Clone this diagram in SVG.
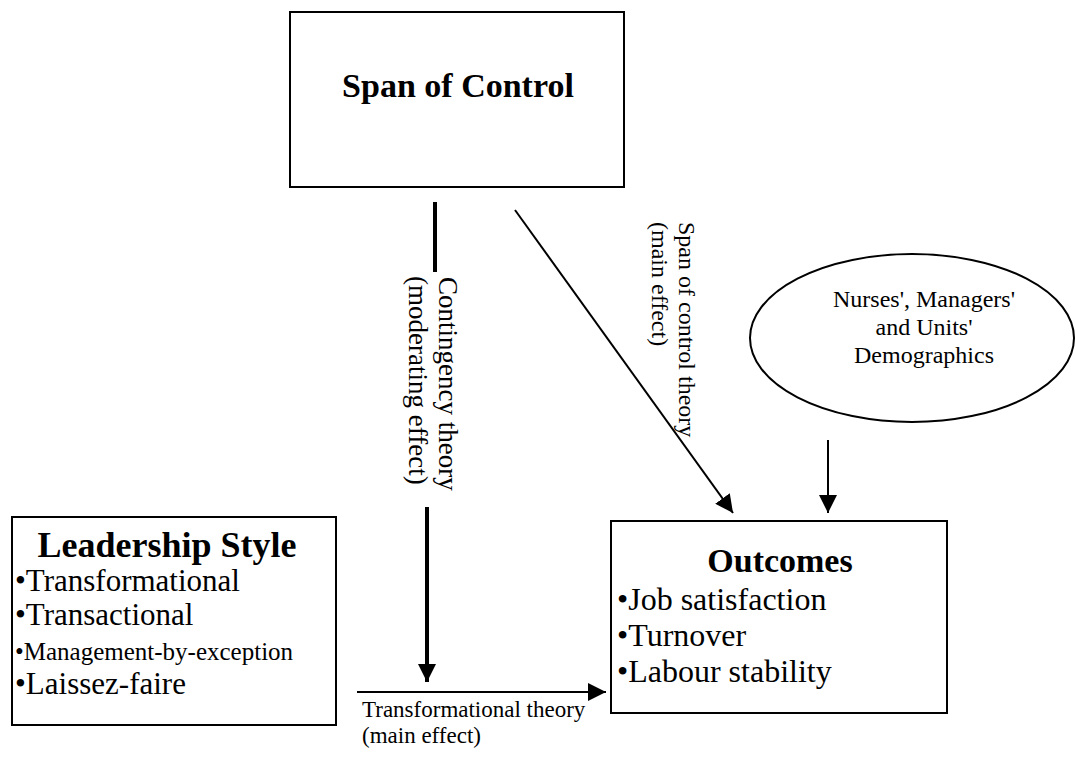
<svg xmlns="http://www.w3.org/2000/svg" width="1075" height="760" viewBox="0 0 1075 760">
<style>
.box{fill:#fff;stroke:#000;stroke-width:2}
.t{font-family:"Liberation Serif","Times New Roman",serif;fill:#000}
.b{font-weight:bold}
.ln{stroke:#000;stroke-width:2;fill:none}
.thick{stroke:#000;stroke-width:4;fill:none}
</style>
<defs>
<marker id="ah" viewBox="0 0 10 10" refX="10" refY="5" markerWidth="9" markerHeight="9" markerUnits="strokeWidth" orient="auto">
<path d="M0,0 L10,5 L0,10 z" fill="#000"/>
</marker>
<marker id="ahT" viewBox="0 0 10 10" refX="10" refY="5" markerWidth="5" markerHeight="4.5" markerUnits="strokeWidth" orient="auto">
<path d="M0,0 L10,5 L0,10 z" fill="#000"/>
</marker>
</defs>
<rect width="1075" height="760" fill="#fff"/>
<g id="span">
<rect class="box" x="290" y="12" width="334" height="175"/>
<text class="t b" x="458" y="97" font-size="34" text-anchor="middle">Span of Control</text>
</g>
<g id="leadership">
<rect class="box" x="12" y="517" width="324" height="208"/>
<text class="t b" x="167" y="557" font-size="36" text-anchor="middle">Leadership Style</text>
<text class="t" x="15" y="591" font-size="31">•Transformational</text>
<text class="t" x="15" y="625" font-size="31">•Transactional</text>
<text class="t" x="15" y="660" font-size="25">•Management-by-exception</text>
<text class="t" x="15" y="694" font-size="31">•Laissez-faire</text>
</g>
<g id="outcomes">
<rect class="box" x="611" y="521" width="336" height="192"/>
<text class="t b" x="780" y="572" font-size="34" text-anchor="middle">Outcomes</text>
<text class="t" x="617" y="610" font-size="32">•Job satisfaction</text>
<text class="t" x="617" y="646" font-size="32">•Turnover</text>
<text class="t" x="617" y="682" font-size="32">•Labour stability</text>
</g>
<g id="demographics">
<ellipse cx="912" cy="338" rx="162" ry="84" fill="#fff" stroke="#000" stroke-width="2"/>
<text class="t" font-size="24" text-anchor="middle"><tspan x="924" y="307">Nurses', Managers'</tspan><tspan x="924" y="335">and Units'</tspan><tspan x="924" y="363">Demographics</tspan></text>
</g>
<g id="connectors">
<line class="thick" x1="435" y1="202" x2="435" y2="272"/>
<line class="thick" x1="427" y1="507" x2="427" y2="682" marker-end="url(#ahT)"/>
<line class="ln" x1="357" y1="692" x2="606" y2="692" marker-end="url(#ah)"/>
<line class="ln" x1="515" y1="210" x2="733" y2="513" marker-end="url(#ah)"/>
<line class="ln" x1="828" y1="440" x2="828" y2="513" marker-end="url(#ah)"/>
</g>
<g id="labels">
<text class="t" font-size="27" transform="translate(439,277) rotate(90)">Contingency theory</text>
<text class="t" font-size="27" transform="translate(409,276) rotate(90)">(moderating effect)</text>
<text class="t" font-size="24" transform="translate(679,222) rotate(90)">Span of control theory</text>
<text class="t" font-size="24" transform="translate(652,222) rotate(90)">(main effect)</text>
<text class="t" x="362" y="717" font-size="23">Transformational theory</text>
<text class="t" x="362" y="743" font-size="23">(main effect)</text>
</g>
</svg>
